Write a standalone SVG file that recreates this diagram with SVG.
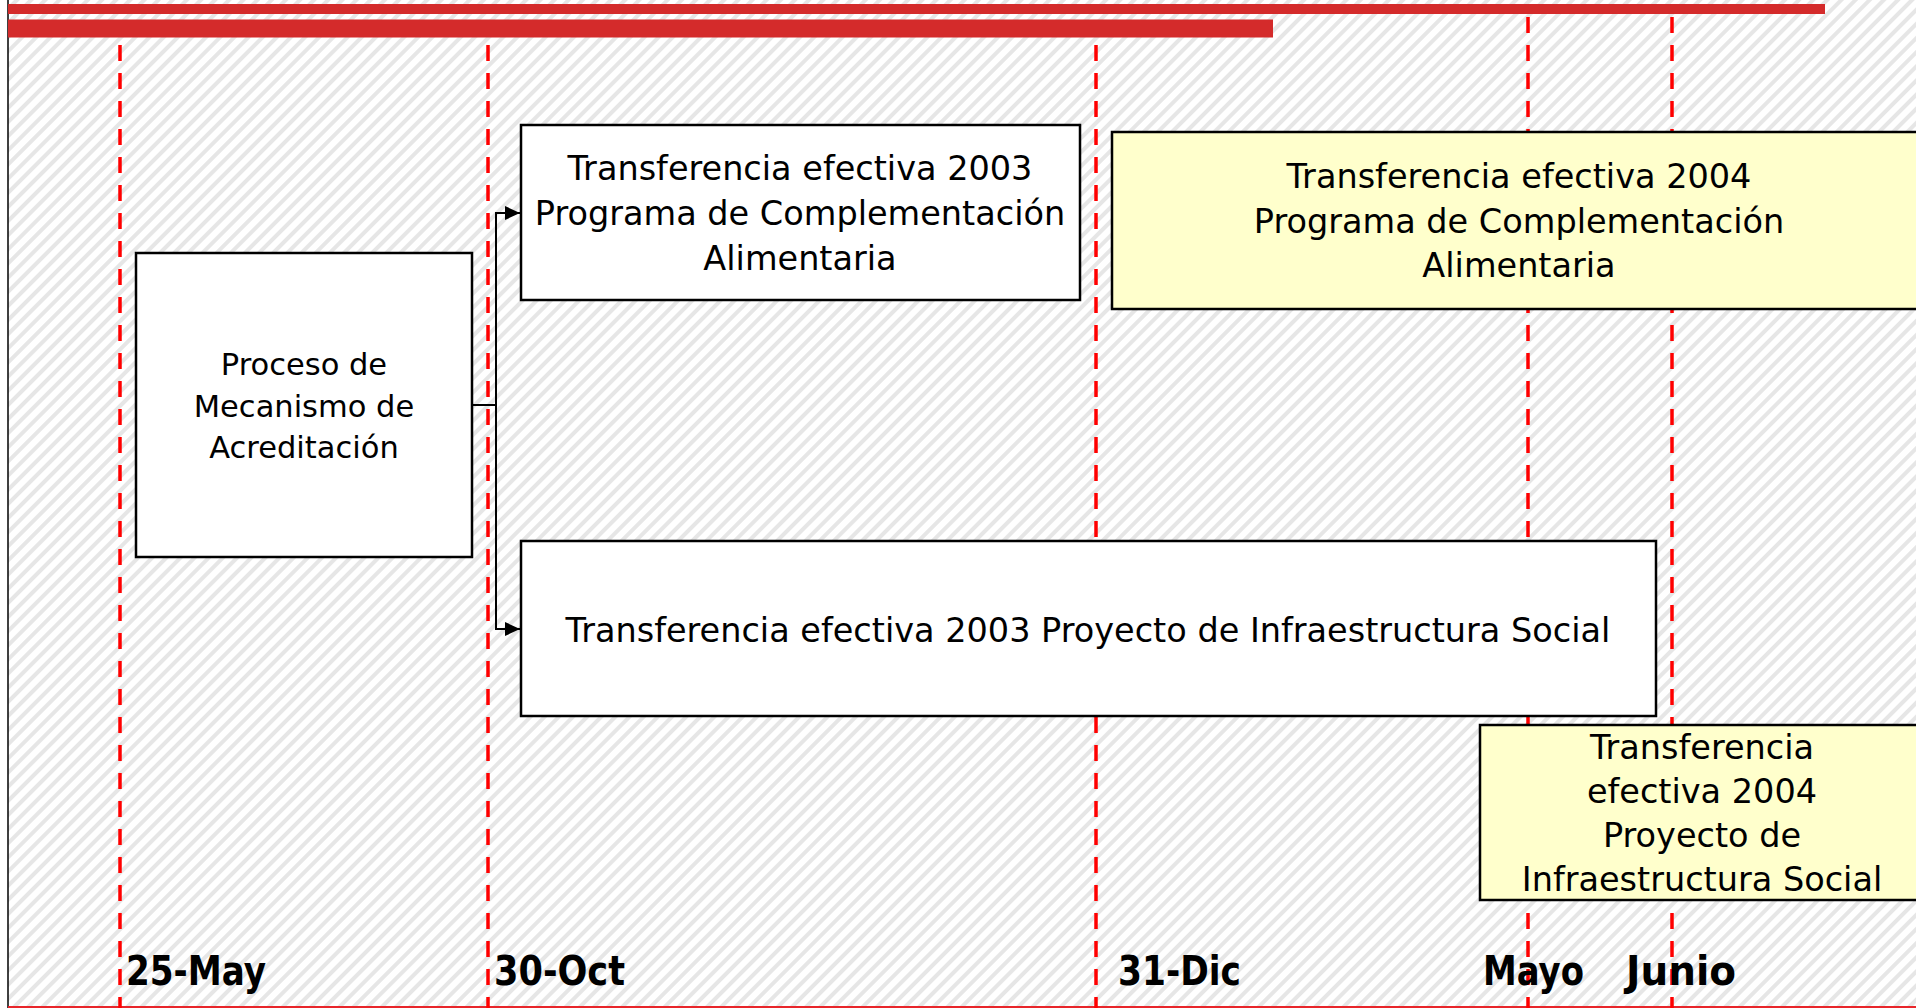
<svg xmlns="http://www.w3.org/2000/svg" width="1916" height="1008" viewBox="0 0 1916 1008">
  <defs>
    <pattern id="hatch" patternUnits="userSpaceOnUse" width="10" height="10" patternTransform="rotate(45)">
      <rect width="10" height="10" fill="#ffffff"/>
      <rect x="0" y="0" width="4" height="10" fill="#e6e6e6"/>
    </pattern>
    <marker id="arrow" markerUnits="userSpaceOnUse" markerWidth="16" markerHeight="14" refX="15" refY="7" orient="auto">
      <path d="M0,0 L15,7 L0,14 Z" fill="#000"/>
    </marker>
    <style>
      .box { stroke: #000; stroke-width: 2.5; }
      .white { fill: #ffffff; }
      .yellow { fill: #ffffcc; }
      .txt { font-family: "DejaVu Sans", "Liberation Sans", sans-serif; font-size: 33.5px; fill: #000; text-anchor: middle; }
      .small { font-size: 30.5px; }
      .lbl { font-family: "DejaVu Sans", "Liberation Sans", sans-serif; font-size: 40px; font-weight: bold; fill: #000; }
      .dash { stroke: #ff0000; stroke-width: 3.5; stroke-dasharray: 16 12; fill: none; }
      .bar { fill: #d42b2b; }
      .conn { stroke: #000; stroke-width: 2; fill: none; }
    </style>
  </defs>

  <rect x="0" y="0" width="1916" height="1008" fill="#ffffff"/>
  <rect x="8" y="0" width="1908" height="1007" fill="url(#hatch)"/>
  <line x1="8" y1="0" x2="8" y2="1008" stroke="#000" stroke-width="1.5"/>
  <line x1="8" y1="1007" x2="1916" y2="1007" stroke="#e8262b" stroke-width="2"/>

  <g id="timeline">
    <line class="dash" x1="120" y1="45" x2="120" y2="1008"/>
    <line class="dash" x1="488" y1="45" x2="488" y2="1008"/>
    <line class="dash" x1="1096" y1="45" x2="1096" y2="1008"/>
    <line class="dash" x1="1528" y1="17" x2="1528" y2="1008"/>
    <line class="dash" x1="1672" y1="17" x2="1672" y2="1008"/>
  </g>

  <g id="bars">
    <rect class="bar" x="8" y="4" width="1817" height="10"/>
    <rect class="bar" x="8" y="19.5" width="1265" height="18"/>
  </g>

  <g id="connectors">
    <path class="conn" d="M472,405 H496 V213 H520" marker-end="url(#arrow)"/>
    <path class="conn" d="M496,405 V629 H520" marker-end="url(#arrow)"/>
  </g>

  <g id="proceso">
    <rect class="box white" x="136" y="253" width="336" height="304"/>
    <text class="txt small" x="304" y="375">Proceso de</text>
    <text class="txt small" x="304" y="416.5">Mecanismo de</text>
    <text class="txt small" x="304" y="458">Acreditación</text>
  </g>

  <g id="pca2003">
    <rect class="box white" x="521" y="125" width="559" height="175"/>
    <text class="txt" x="800" y="180">Transferencia efectiva 2003</text>
    <text class="txt" x="800" y="225">Programa de Complementación</text>
    <text class="txt" x="800" y="270">Alimentaria</text>
  </g>

  <g id="pca2004">
    <rect class="box yellow" x="1112" y="132" width="814" height="177"/>
    <text class="txt" x="1519" y="188">Transferencia efectiva 2004</text>
    <text class="txt" x="1519" y="233">Programa de Complementación</text>
    <text class="txt" x="1519" y="277">Alimentaria</text>
  </g>

  <g id="pis2003">
    <rect class="box white" x="521" y="541" width="1135" height="175"/>
    <text class="txt" x="1088" y="642">Transferencia efectiva 2003 Proyecto de Infraestructura Social</text>
  </g>

  <g id="pis2004">
    <rect class="box yellow" x="1480" y="725" width="444" height="175"/>
    <text class="txt" x="1702" y="759">Transferencia</text>
    <text class="txt" x="1702" y="803"> efectiva 2004</text>
    <text class="txt" x="1702" y="847">Proyecto de</text>
    <text class="txt" x="1702" y="891">Infraestructura Social</text>
  </g>

  <g id="labels">
    <text class="lbl" x="126" y="985" textLength="140" lengthAdjust="spacingAndGlyphs">25-May</text>
    <text class="lbl" x="494" y="985" textLength="131" lengthAdjust="spacingAndGlyphs">30-Oct</text>
    <text class="lbl" x="1118" y="985" textLength="123" lengthAdjust="spacingAndGlyphs">31-Dic</text>
    <text class="lbl" x="1483" y="985" textLength="101" lengthAdjust="spacingAndGlyphs">Mayo</text>
    <text class="lbl" x="1626" y="985" textLength="110" lengthAdjust="spacingAndGlyphs">Junio</text>
  </g>
</svg>
